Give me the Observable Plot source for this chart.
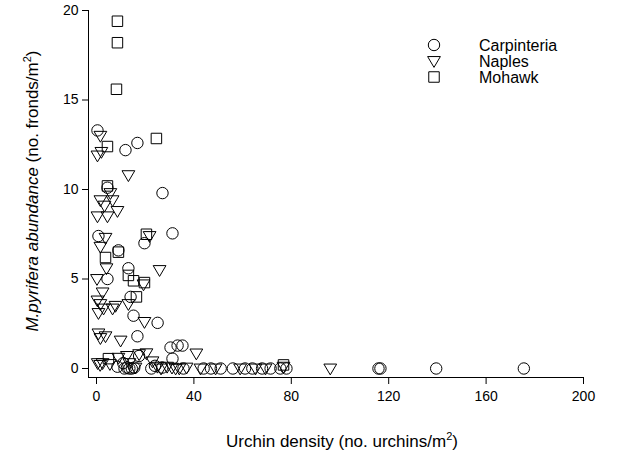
<!DOCTYPE html>
<html>
<head>
<meta charset="utf-8">
<script src="https://cdn.jsdelivr.net/npm/d3@7"></script>
<script src="https://cdn.jsdelivr.net/npm/@observablehq/plot@0.6"></script>
<style>
  html, body { margin: 0; padding: 0; background: white; }
  svg { display: block; }
</style>
</head>
<body>
<div id="chart"></div>
<script>
// ---- data ----
const sites = ["Carpinteria", "Naples", "Mohawk"];

const carpinteriaX = [0.4, 11.9, 16.8, 4.5, 27.1, 0.8, 19.7, 31.2, 9.0, 4.5, 13.1, 14.0, 15.2, 25.1, 16.8, 30.4, 33.3, 35.3, 31.2,
  8.6, 11.0, 11.5, 12.5, 13.5, 14.5, 15.5, 17.5, 22.5, 24, 27, 35.7, 44, 47, 51, 56, 61, 64, 68, 71.5, 75.5, 78, 115.8, 116.6, 139.5, 175.5];
const carpinteriaY = [13.3, 12.2, 12.6, 10.1, 9.8, 7.4, 7.0, 7.55, 6.6, 5.0, 5.6, 4.0, 2.95, 2.55, 1.8, 1.17, 1.28, 1.28, 0.55,
  0.1, 0.3, 0.0, 0.05, 0.0, 0.0, 0.05, 0.7, 0.0, 0.15, 0.05, 0.0, 0.0, 0.0, 0.0, 0.0, 0.0, 0.0, 0.0, 0.0, 0.0, 0.0, 0.0, 0.0, 0.0, 0.0];

const naplesX = [1.6, 0.4, 2.0, 13.1, 5.7, 1.6, 3.3, 6.6, 8.6, 0.4, 4.5, 3.7, 21.8, 1.6, 4.1, 25.9, 0.2, 19.3, 2.5, 0.4, 1.6, 2.9, 6.6, 7.8, 0.8, 13.1, 19.7, 0.8, 1.6, 3.7, 9.9, 41,
  0.5, 1.5, 2.5, 5.5, 9, 12.5, 13.5, 16, 17.5, 20.5, 23, 25, 26.5, 29, 31, 32.5, 34, 37, 42.7, 48.9, 59, 65.3, 69.4, 76.8, 96];
const naplesY = [13.0, 11.9, 12.1, 10.8, 9.8, 9.4, 9.1, 9.4, 8.8, 8.5, 8.5, 7.3, 7.4, 6.8, 5.6, 5.5, 5.0, 4.7, 4.25, 3.8, 3.6, 3.35, 3.35, 3.5, 3.1, 3.6, 2.6, 1.96, 1.7, 1.8, 1.56, 0.84,
  0.3, 0.2, 0.3, 0.25, 0.6, 0.7, 0.3, 0.05, 0.8, 0.85, 0.4, 0.1, 0.0, 0.1, 0.05, 0.0, 0.0, 0.05, 0.0, 0.0, 0.0, 0.0, 0.0, 0.1, 0.0];

const mohawkX = [8.6, 8.6, 8.2, 24.6, 4.5, 4.5, 9.0, 20.5, 3.7, 13.1, 15.2, 19.7, 16.4, 4.9, 76.8];
const mohawkY = [19.4, 18.2, 15.6, 12.85, 12.4, 10.2, 6.5, 7.5, 6.2, 5.2, 4.9, 4.8, 4.0, 0.55, 0.2];

const xTicks = [0, 40, 80, 120, 160, 200];
const yTicks = [0, 5, 10, 15, 20];

// ---- table built from arrays ----
const table = [
  ...carpinteriaX.map((x, i) => ({site: "Carpinteria", x, y: carpinteriaY[i]})),
  ...naplesX.map((x, i) => ({site: "Naples", x, y: naplesY[i]})),
  ...mohawkX.map((x, i) => ({site: "Mohawk", x, y: mohawkY[i]}))
];

// custom symbols
const triangleDown = {
  draw(ctx, size) {
    const r = Math.sqrt(size / Math.PI);
    ctx.moveTo(-1.12 * r, -0.78 * r);
    ctx.lineTo(1.12 * r, -0.78 * r);
    ctx.lineTo(0, 1.12 * r);
    ctx.closePath();
  }
};
const squareSym = {
  draw(ctx, size) {
    const r = Math.sqrt(size / Math.PI);
    const h = 0.92 * r;
    ctx.moveTo(-h, -h);
    ctx.lineTo(h, -h);
    ctx.lineTo(h, h);
    ctx.lineTo(-h, h);
    ctx.closePath();
  }
};
const symbolFor = {Carpinteria: "circle", Naples: triangleDown, Mohawk: squareSym};

const FONT = "'Liberation Sans', Arial, sans-serif";

const marks = [
  Plot.frame({anchor: "left", stroke: "black"}),
  Plot.frame({anchor: "bottom", stroke: "black"}),
  Plot.axisX({ticks: xTicks, tickSize: 7, tickPadding: 7, label: null, stroke: "black", fill: "black"}),
  Plot.axisY({ticks: yTicks, tickSize: 6, tickPadding: 4, label: null, stroke: "black", fill: "black"})
];
for (const s of sites) {
  marks.push(Plot.dot(table.filter(d => d.site === s), {
    x: "x", y: "y", r: 5.7, symbol: () => symbolFor[s], stroke: "black", strokeWidth: 1, fill: "none"
  }));
}

const svg = Plot.plot({
  width: 634,
  height: 456,
  marginLeft: 88,
  marginRight: 51,
  marginTop: 10,
  marginBottom: 79,
  x: {domain: [0, 200], insetLeft: 8},
  y: {domain: [0, 20], insetBottom: 9},
  symbol: {type: "identity"},
  style: {fontFamily: FONT, fontSize: "14px", color: "black", background: "white"},
  marks
});

document.getElementById("chart").appendChild(svg);

// ---- titles & legend ----
const s = d3.select(svg);
const xt = s.append("text")
  .attr("x", 342).attr("y", 447)
  .attr("text-anchor", "middle")
  .attr("font-family", FONT).attr("font-size", 17).attr("fill", "black");
xt.append("tspan").text("Urchin density (no. urchins/m");
xt.append("tspan").attr("dy", -7).attr("font-size", 11).text("2");
xt.append("tspan").attr("dy", 7).text(")");

const yt = s.append("text")
  .attr("transform", "translate(38,191) rotate(-90)")
  .attr("text-anchor", "middle")
  .attr("font-family", FONT).attr("font-size", 17).attr("fill", "black");
yt.append("tspan").attr("font-style", "italic").text("M.pyrifera abundance");
yt.append("tspan").text(" (no. fronds/m");
yt.append("tspan").attr("dy", -7).attr("font-size", 11).text("2");
yt.append("tspan").attr("dy", 7).text(")");

const legendY = [45, 61, 77];
const r = 5.7, size = r * r * Math.PI;
sites.forEach((name, i) => {
  const g = s.append("g").attr("transform", `translate(434,${legendY[i]})`);
  if (name === "Carpinteria") {
    g.append("circle").attr("r", r).attr("fill", "none").attr("stroke", "black");
  } else {
    const p = d3.path();
    (name === "Naples" ? triangleDown : squareSym).draw(p, size);
    g.append("path").attr("d", p.toString()).attr("fill", "none").attr("stroke", "black");
  }
  s.append("text").attr("x", 479).attr("y", legendY[i]).attr("dy", "0.35em")
    .attr("text-anchor", "start")
    .attr("font-family", FONT).attr("font-size", 16).attr("fill", "black").text(name);
});
</script>
</body>
</html>
